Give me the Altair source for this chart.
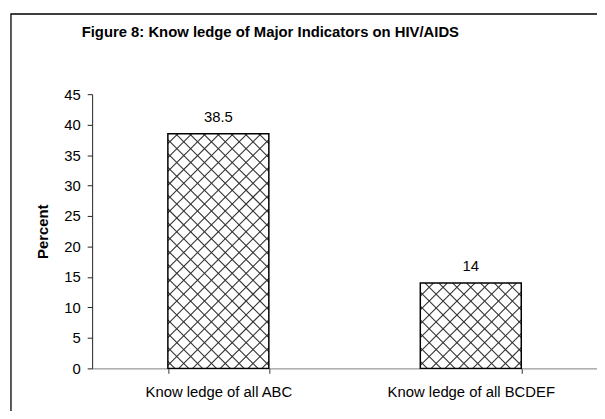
import altair as alt
import pandas as pd

# ---- data ----
categories = ["Know ledge of all ABC", "Know ledge of all BCDEF"]
values = [38.5, 14]
value_labels = ["38.5", "14"]
y_ticks = [0, 5, 10, 15, 20, 25, 30, 35, 40, 45]
chart_title = "Figure 8: Know ledge of Major Indicators on HIV/AIDS"

# ---- layout / style ----
W, H = 510, 277
Y_MAX = 45
PAD_IN, PAD_OUT = 0.6, 0.3
HATCH = 14  # pattern period in px
FONT = "Liberation Sans"
FS = 15

df = pd.DataFrame({"category": categories, "value": values, "label": value_labels})

# crosshatch pattern segments, derived from bar values and band layout
n = len(categories)
step = W / (n - PAD_IN + 2 * PAD_OUT)
bw = step * (1 - PAD_IN)
start = (W - step * (n - PAD_IN)) * 0.5
ppu = H / Y_MAX
rows = []
for i, v in enumerate(values):
    left = start + i * step
    bh = v * ppu
    c = -bw + (HATCH / 2)
    while c < bh:
        lo, hi = max(0.0, -c), min(bw, bh - c)
        if hi > lo:
            rows.append({"x": left + lo, "x2": left + hi, "y": (lo + c) / ppu, "y2": (hi + c) / ppu})
        c += HATCH
    c = HATCH / 2
    while c < bw + bh:
        lo, hi = max(0.0, c - bh), min(bw, c)
        if hi > lo:
            rows.append({"x": left + lo, "x2": left + hi, "y": (c - lo) / ppu, "y2": (c - hi) / ppu})
        c += HATCH
hatch = pd.DataFrame(rows)

xscale = alt.Scale(paddingInner=PAD_IN, paddingOuter=PAD_OUT)
yscale = alt.Scale(domain=[0, Y_MAX], nice=False)
yaxis = alt.Axis(values=y_ticks, tickSize=5, labelPadding=7,
                 domainColor="#222222", tickColor="#222222",
                 labelFontSize=FS, labelColor="black", labelFont=FONT,
                 title="Percent", titleFontSize=FS, titleFontWeight="bold",
                 titleFont=FONT, titleColor="black", titlePadding=13)

base = alt.Chart(df)

bars = base.mark_bar(color="white").encode(
    x=alt.X("category:N", sort=categories, scale=xscale,
            axis=alt.Axis(title=None, labelAngle=0, tickBand="extent", tickSize=5,
                          domainColor="#808080", tickColor="#333333",
                          labelPadding=11, labelFontSize=FS, labelColor="black",
                          labelFont=FONT)),
    y=alt.Y("value:Q", scale=yscale, axis=yaxis),
)

hatch_layer = alt.Chart(hatch).mark_rule(color="#333333", strokeWidth=1.1).encode(
    x=alt.X("x:Q", scale=alt.Scale(domain=[0, W], nice=False, zero=False), axis=None),
    x2="x2:Q",
    y=alt.Y("y:Q", scale=yscale, axis=yaxis),
    y2="y2:Q",
)

outline = base.mark_bar(fillOpacity=0, stroke="black", strokeWidth=1.5).encode(
    x=alt.X("category:N", sort=categories, scale=xscale, axis=None),
    y=alt.Y("value:Q", scale=yscale, axis=yaxis),
)

text = base.mark_text(fontSize=FS, font=FONT, color="black", baseline="alphabetic", dy=-12).encode(
    x=alt.X("category:N", sort=categories, scale=xscale, axis=None),
    y=alt.Y("value:Q", scale=yscale, axis=yaxis),
    text="label:N",
)

one = pd.DataFrame({"k": [0]})
title_layer = alt.Chart(one).mark_text(
    fontSize=FS, font=FONT, fontWeight="bold", color="black", align="center", baseline="alphabetic"
).encode(x=alt.value(180), y=alt.value(-58), text=alt.value(chart_title))

border = alt.Chart(one).mark_rect(fillOpacity=0, stroke="black", strokeWidth=1.3).encode(
    x=alt.value(-82), y=alt.value(-81), x2=alt.value(700), y2=alt.value(500)
)

chart = alt.layer(bars, hatch_layer, outline, text, title_layer, border).resolve_scale(
    x="independent"
).properties(
    width=W, height=H,
    autosize=alt.AutoSizeParams(type="none"),
    padding={"left": 85, "top": 85, "right": 0, "bottom": 41},
).configure_view(stroke=None).configure_axis(grid=False)

chart.save("out.html", embed_options={"renderer": "svg", "actions": False})
